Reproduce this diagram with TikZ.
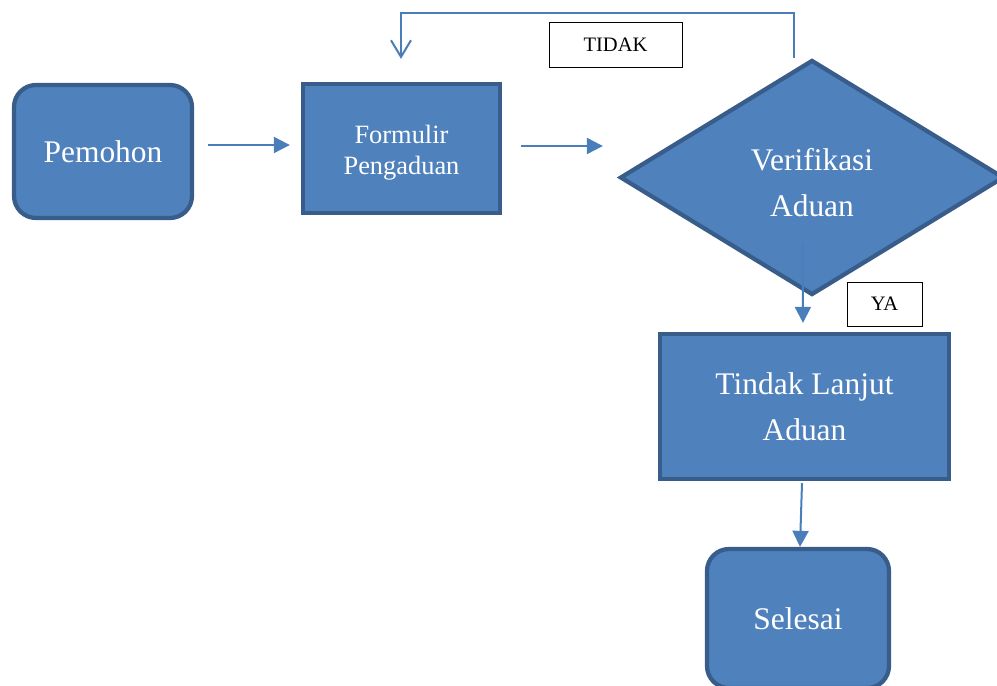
\documentclass[tikz,border=0pt]{standalone}
\usepackage{fontspec}
\setmainfont{Liberation Serif}
\usetikzlibrary{shapes.geometric,arrows.meta,calc}
\definecolor{boxfill}{HTML}{4F81BD}
\definecolor{boxline}{HTML}{385D8A}
\definecolor{linkblue}{HTML}{4A7EBB}
\begin{document}
\begin{tikzpicture}[x=0.75pt,y=-0.75pt,
  shapebox/.style={draw=boxline, fill=boxfill, line width=3.2pt, text=white,
    align=center, inner sep=0pt},
  roundbox/.style={shapebox, rounded corners=16.5pt},
  bigtext/.style={font=\fontsize{23.6}{34.5}\selectfont},
  midtext/.style={font=\fontsize{19.8}{23.25}\selectfont},
  % centred caption sitting slightly low in its shape
  lowtext/.style 2 args={label={[text=white, align=center, #1, yshift=-3.5pt]center:{#2}}},
  tagbox/.style={draw=black, line width=0.75pt, fill=white, inner sep=0pt,
    font=\fontsize{15.4}{18}\selectfont},
  conn/.style={draw=linkblue, line width=1.5pt,
    -{Triangle[length=12pt,width=12pt]}},
  backconn/.style={draw=linkblue, line width=1.5pt,
    -{Straight Barb[length=12.5pt,width=15pt,line width=1.5pt]}}
]
\useasboundingbox (0,0) rectangle (997,686);
\clip (0,0) rectangle (997,686);

% process steps
\node[roundbox, bigtext, minimum width=133.5pt, minimum height=99.75pt] (pem) at (103,151.5) {Pemohon};
\node[shapebox, minimum width=147.75pt, minimum height=96.75pt,
  lowtext={midtext}{Formulir\\Pengaduan}] (frm) at (401.5,148.5) {};
\node[shapebox, shape=diamond, minimum width=288pt, minimum height=176.25pt,
  lowtext={bigtext}{Verifikasi\\Aduan}] (ver) at (812,177.5) {};
\node[shapebox, bigtext, minimum width=216.75pt, minimum height=108.75pt] (tl) at (804.5,406.5) {Tindak Lanjut\\Aduan};
\node[roundbox, bigtext, minimum width=136.5pt, minimum height=104.25pt] (sel) at (798,618.5) {Selesai};

% decision labels
\node[tagbox, minimum width=99.75pt, minimum height=33.75pt] (tidak) at (615.5,44.5) {TIDAK};
\node[tagbox, minimum width=56.25pt, minimum height=33pt] (ya) at (884.5,304) {YA};

% connectors
\draw[conn] ($(pem.east)+(14,-6.5)$) -- ($(frm.west)+(-11,-3.5)$);
\draw[conn] ($(frm.east)+(19,-2.5)$) -- ($(ver.west)+(-15,-31.5)$);
\draw[backconn] ($(ver.north)+(-18,0)$) -- ($(ver.north)+(-18,-45)$)
  -| ($(frm.north)+(-0.5,-23)$);
\draw[conn] ($(ver.south)+(-9.5,-55)$) -- ($(tl.north)+(-1.5,-9)$);
\draw[conn] ($(tl.south)+(-2.5,2)$) -- ($(sel.north)+(2,0)$);
\end{tikzpicture}
\end{document}
